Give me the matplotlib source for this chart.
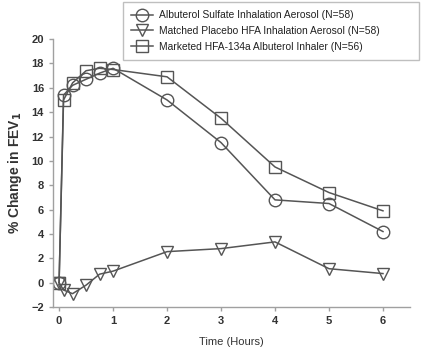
import matplotlib.pyplot as plt
from matplotlib.lines import Line2D

# time points (hours) and mean % change in FEV1
hours = [0, 0.083, 0.25, 0.5, 0.75, 1, 2, 3, 4, 5, 6]
albuterol_hfa = [0, 15.4, 16.2, 16.7, 17.2, 17.6, 15.0, 11.5, 6.8, 6.5, 4.2]
placebo_hfa = [0, -0.6, -0.9, -0.2, 0.7, 0.95, 2.55, 2.8, 3.35, 1.15, 0.75]
marketed_134a = [0, 15.0, 16.4, 17.4, 17.6, 17.5, 16.9, 13.5, 9.5, 7.4, 5.9]

labels = [
    "Albuterol Sulfate Inhalation Aerosol (N=58)",
    "Matched Placebo HFA Inhalation Aerosol (N=58)",
    "Marketed HFA-134a Albuterol Inhaler (N=56)",
]
markers = ["o", "v", "s"]
x_ticks = [0, 1, 2, 3, 4, 5, 6]
y_ticks = list(range(-2, 21, 2))

plt.rcParams["font.family"] = ["Liberation Sans", "DejaVu Sans"]

line_col = "#555555"
spine_col = "#a0a0a0"
text_col = "#333333"

fig = plt.figure(figsize=(4.32, 3.55), dpi=100)
ax = fig.add_axes([0.123, 0.135, 0.826, 0.755])

for vals, m in zip([albuterol_hfa, placebo_hfa, marketed_134a], markers):
    ax.plot(hours, vals, color=line_col, lw=1.1, marker=m, ms=9,
            mfc="none", mec=line_col, mew=1.0)

ax.set_xlim(-0.11, 6.5)
ax.set_ylim(-2, 20)
ax.set_xticks(x_ticks)
ax.set_yticks(y_ticks)

for side in ["top", "right"]:
    ax.spines[side].set_visible(False)
for side in ["left", "bottom"]:
    ax.spines[side].set_color(spine_col)
    ax.spines[side].set_linewidth(1.0)

ax.tick_params(colors=spine_col, labelcolor=text_col, length=3, width=1.0,
               labelsize=8)
for lbl in ax.get_xticklabels() + ax.get_yticklabels():
    lbl.set_fontweight("bold")

ax.set_xlabel("Time (Hours)", fontsize=8, color=text_col, labelpad=8)
ax.set_ylabel("% Change in FEV$_\\mathbf{1}$", fontsize=10, color=text_col,
              fontweight="bold", labelpad=5)

handles = [Line2D([], [], color=line_col, lw=1.1, marker=m, ms=9,
                  mfc="none", mec=line_col, mew=1.0) for m in markers]
leg = fig.legend(handles, labels, loc="upper left", mode="expand",
                 bbox_to_anchor=(123 / 432, 1 - 62 / 355, 296 / 432, 60 / 355),
                 borderaxespad=0, fontsize=7.4,
                 frameon=True, fancybox=False, handlelength=2.1,
                 handletextpad=0.6, labelspacing=0.56, borderpad=0.8)
leg.get_frame().set_edgecolor("#b0b0b0")
leg.get_frame().set_linewidth(1.0)
for t in leg.get_texts():
    t.set_color("#222222")

fig.savefig("out.png", dpi=100)
